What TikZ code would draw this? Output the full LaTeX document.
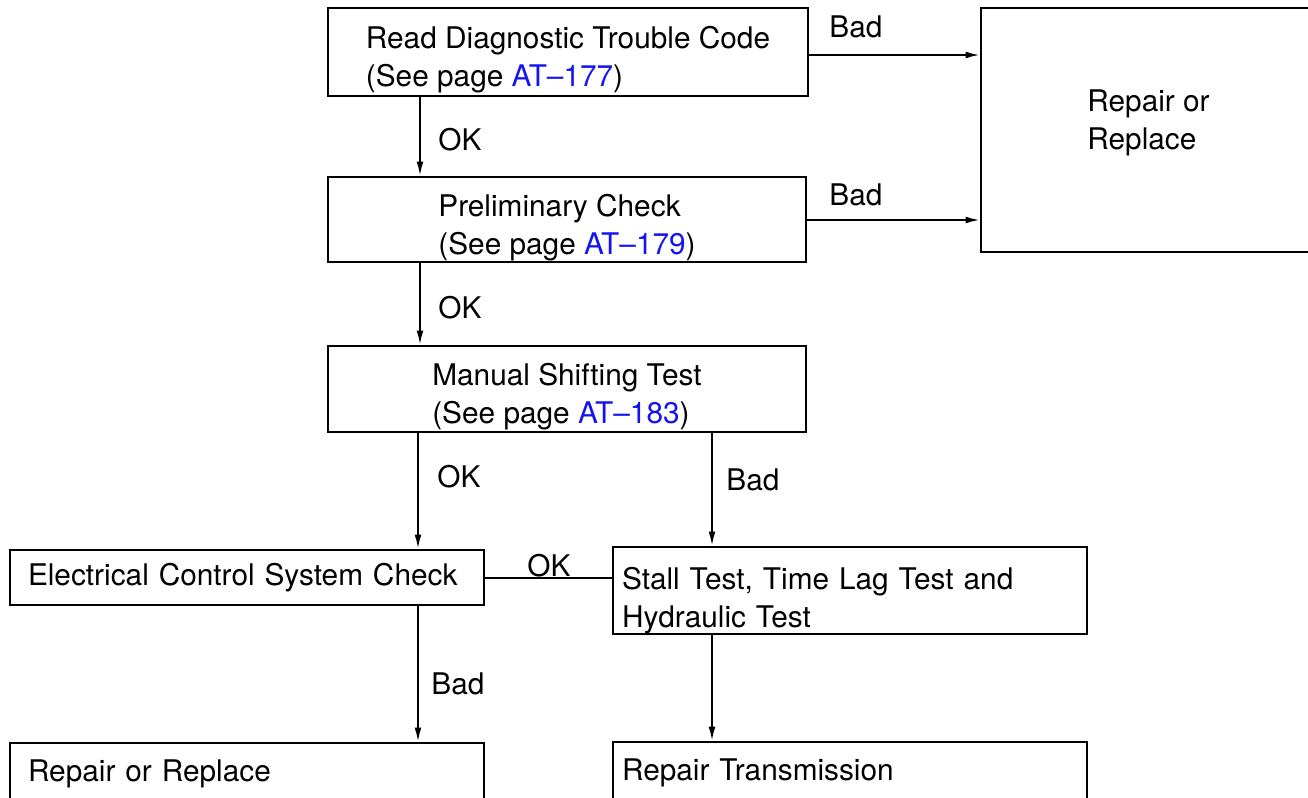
\documentclass[tikz,border=0pt]{standalone}
\usepackage{fontspec}
\setmainfont{TeX Gyre Heros}
\usetikzlibrary{arrows.meta}
\definecolor{linkblue}{RGB}{20,20,240}
\newcommand{\atref}[1]{\textcolor{linkblue}{AT--#1}}

\begin{document}
\begin{tikzpicture}[x=0.5pt,y=-0.5pt,
	font=\fontsize{14.9}{19}\selectfont,
	box/.style={draw,line width=1.3pt,align=left,inner sep=0pt},
	leftbox/.style={box,inner xsep=4.5pt,text width=228pt},
	widebox/.style={box,inner xsep=9pt,text width=219pt},
	flow/.style={line width=0.9pt,-{Latex[length=7pt,width=3.4pt]}},
	lbl/.style={inner sep=0pt}]
	\useasboundingbox (0,0) rectangle (1308,798);
	% top column
	\node[box,minimum width=240pt,minimum height=44pt,text height=38pt] (rdtc) at (568,52) {Read Diagnostic Trouble Code\\(See page \atref{177})};
	\node[box,minimum width=239pt,minimum height=42.5pt,text height=38pt] (prelim) at (567,219.5) {Preliminary Check\\(See page \atref{179})};
	\node[box,minimum width=239pt,minimum height=43pt,text height=38pt] (manual) at (567,389) {Manual Shifting Test\\(See page \atref{183})};
	\node[box,minimum width=167.5pt,minimum height=122pt,text depth=10pt] (repair) at (1148.5,130) {Repair or\\Replace};
	% lower row
	\node[widebox,minimum height=27.5pt] (ecs) at (247,577.5) {Electrical Control System Check};
	\node[leftbox,minimum height=43.5pt,text height=21pt] (stall) at (850,590.5) {Stall Test, Time Lag Test and\\Hydraulic Test};
	\node[widebox,minimum height=31pt] (replace) at (247,774) {Repair or Replace};
	\node[leftbox,minimum height=31pt] (trans) at (850,773) {Repair Transmission};
	% connectors
	\draw[flow] (rdtc.south -| 420,0) -- (prelim.north -| 420,0);
	\draw[flow] (prelim.south -| 420,0) -- (manual.north -| 420,0);
	\draw[flow] (manual.south -| 418,0) -- (ecs.north -| 418,0);
	\draw[flow] (manual.south -| 712,0) -- (stall.north -| 712,0);
	\draw[flow] (ecs.south -| 418,0) -- (replace.north -| 418,0);
	\draw[flow] (stall.south -| 712,0) -- (trans.north -| 712,0);
	\draw[flow] (rdtc.east |- 0,55) -- (repair.west |- 0,55);
	\draw[flow] (prelim.east |- 0,220) -- (repair.west |- 0,220);
	\draw[line width=0.9pt] (ecs.east |- 0,578) -- (stall.west |- 0,578);
	% labels
	\node[lbl] (bad1) at (856,27) {Bad};
	\node[lbl] (bad2) at (856,195) {Bad};
	\node[lbl] (ok1) at (460,140) {OK};
	\node[lbl] (ok2) at (460,308) {OK};
	\node[lbl] (ok3) at (459,477) {OK};
	\node[lbl] (bad3) at (753,480) {Bad};
	\node[lbl] (ok4) at (549,566) {OK};
	\node[lbl] (bad4) at (458,684) {Bad};
\end{tikzpicture}
\end{document}
